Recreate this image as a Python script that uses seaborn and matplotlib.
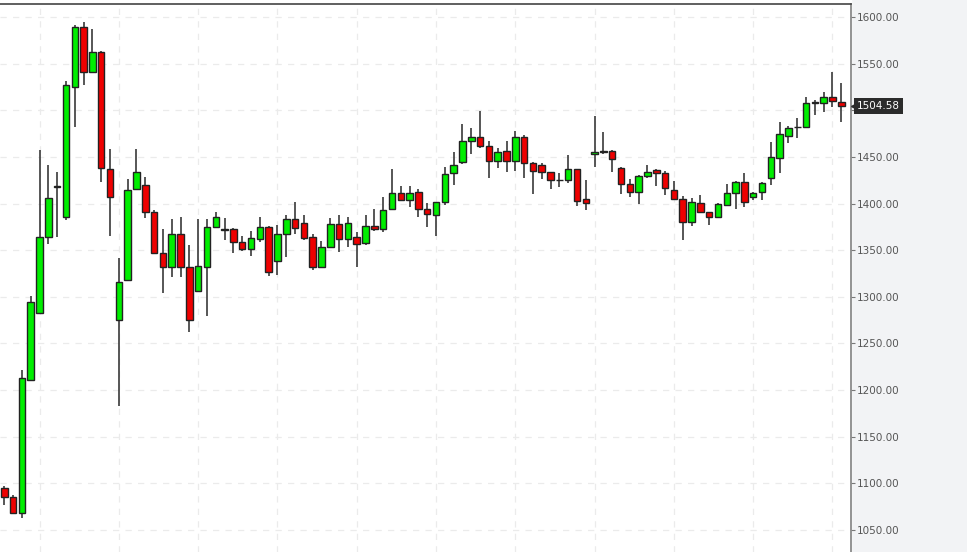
import numpy as np
import pandas as pd
import matplotlib
matplotlib.use("Agg")
import matplotlib.pyplot as plt
from matplotlib.patches import Rectangle
import seaborn as sns

# OHLC values (96 candles)
opens = [1094.7, 1085.7, 1067.9, 1210.8, 1282.3, 1364.5, 1418.0, 1385.9, 1525.3, 1589.0,
         1540.7, 1562.8, 1436.7, 1275.1, 1318.0, 1415.6, 1419.9, 1390.6, 1346.6, 1331.6,
         1367.0, 1331.6, 1306.5, 1331.6, 1374.5, 1372.0, 1372.7, 1358.8, 1351.6, 1362.3,
         1374.5, 1338.7, 1367.0, 1383.4, 1378.8, 1363.8, 1331.6, 1353.7, 1377.7, 1361.6,
         1363.8, 1358.0, 1376.2, 1373.0, 1394.1, 1411.0, 1403.8, 1412.0, 1394.1, 1387.4,
         1401.3, 1432.4, 1444.9, 1467.4, 1471.0, 1461.7, 1445.9, 1456.6, 1445.9, 1471.7,
         1443.1, 1441.3, 1433.5, 1425.0, 1425.2, 1436.7, 1404.9, 1453.1, 1455.6, 1456.6,
         1437.8, 1420.6, 1412.0, 1429.8, 1436.0, 1433.0, 1414.5, 1404.9, 1379.9, 1400.2,
         1390.6, 1385.9, 1398.4, 1411.0, 1423.4, 1407.3, 1412.7, 1427.0, 1448.5, 1472.7,
         1481.9, 1482.4, 1508.5, 1507.7, 1514.5, 1508.5]
highs = [1097.5, 1087.5, 1221.5, 1300.9, 1457.4, 1441.3, 1434.1, 1531.4, 1591.4, 1595.0,
         1586.8, 1563.5, 1458.1, 1341.3, 1426.3, 1458.1, 1428.8, 1393.0, 1372.4, 1383.1,
         1385.9, 1355.5, 1383.1, 1383.1, 1391.3, 1384.2, 1374.0, 1365.5, 1370.9, 1385.2,
         1376.0, 1377.0, 1387.4, 1401.3, 1387.7, 1367.3, 1360.2, 1384.2, 1387.7, 1385.9,
         1369.8, 1387.7, 1393.8, 1407.3, 1437.0, 1418.8, 1418.8, 1415.6, 1400.2, 1402.0,
         1439.5, 1455.6, 1485.3, 1480.7, 1499.5, 1467.4, 1459.2, 1467.4, 1478.1, 1473.0,
         1445.0, 1443.0, 1434.0, 1433.0, 1452.0, 1437.0, 1425.2, 1493.9, 1477.0, 1457.0,
         1439.0, 1426.0, 1431.0, 1441.3, 1436.5, 1435.0, 1424.5, 1408.1, 1405.6, 1409.1,
         1391.0, 1400.2, 1420.9, 1424.5, 1432.4, 1412.5, 1423.0, 1466.3, 1487.7, 1483.5,
         1491.4, 1513.9, 1511.0, 1519.3, 1540.7, 1528.9]
lows = [1076.8, 1066.8, 1062.5, 1210.0, 1282.0, 1356.3, 1364.5, 1382.4, 1482.4, 1527.1,
        1540.7, 1423.4, 1365.2, 1182.9, 1318.0, 1415.0, 1384.2, 1346.6, 1304.4, 1320.9,
        1320.9, 1261.9, 1306.5, 1279.4, 1374.5, 1360.9, 1346.6, 1349.4, 1344.0, 1358.8,
        1322.3, 1323.4, 1343.0, 1367.0, 1360.9, 1328.7, 1330.6, 1353.7, 1348.4, 1353.7,
        1332.3, 1355.5, 1370.5, 1369.8, 1393.0, 1403.8, 1396.6, 1385.9, 1375.2, 1365.2,
        1398.4, 1419.9, 1442.4, 1453.1, 1459.2, 1427.0, 1437.8, 1434.1, 1435.2, 1427.0,
        1410.2, 1426.0, 1415.3, 1417.6, 1421.7, 1397.4, 1393.0, 1439.5, 1453.1, 1434.1,
        1410.2, 1407.3, 1399.2, 1427.0, 1418.8, 1409.1, 1403.8, 1360.9, 1376.2, 1390.6,
        1377.0, 1385.0, 1397.7, 1393.8, 1396.6, 1403.8, 1403.8, 1419.9, 1432.4, 1464.6,
        1470.6, 1482.0, 1494.9, 1497.6, 1503.0, 1487.1]
closes = [1085.7, 1067.9, 1212.6, 1294.8, 1364.5, 1405.6, 1418.8, 1527.1, 1589.0, 1541.4,
          1562.8, 1437.8, 1407.3, 1316.2, 1414.5, 1433.5, 1391.3, 1346.6, 1331.6, 1367.0,
          1331.6, 1275.1, 1333.0, 1374.5, 1385.9, 1372.4, 1359.1, 1351.6, 1363.4, 1374.5,
          1326.9, 1367.0, 1383.4, 1374.1, 1363.4, 1331.6, 1353.7, 1377.7, 1361.6, 1378.8,
          1356.6, 1376.2, 1373.0, 1393.1, 1411.0, 1403.8, 1411.0, 1394.1, 1388.5, 1401.3,
          1431.7, 1441.3, 1467.4, 1471.0, 1461.7, 1445.9, 1455.6, 1445.9, 1471.7, 1443.1,
          1434.9, 1433.5, 1425.2, 1425.2, 1436.7, 1402.4, 1400.2, 1455.6, 1456.2, 1447.4,
          1420.6, 1412.0, 1429.5, 1434.1, 1432.4, 1417.0, 1404.9, 1379.9, 1401.3, 1390.6,
          1385.9, 1399.2, 1411.0, 1423.4, 1402.0, 1411.6, 1422.3, 1449.6, 1474.6, 1481.3,
          1481.5, 1508.1, 1508.1, 1514.5, 1509.9, 1504.58]
last_price = 1504.58
y_ticks = [1050, 1100, 1150, 1200, 1250, 1300, 1350, 1400, 1450, 1500, 1550, 1600]

df = pd.DataFrame({"open": opens, "high": highs, "low": lows, "close": closes})
df["idx"] = np.arange(len(df))
df["up"] = df["close"] >= df["open"]

sns.set_style("white")
plt.rcParams["font.family"] = ["DejaVu Sans"]

W, H = 967, 552
fig = plt.figure(figsize=(W / 100, H / 100), dpi=100, facecolor="#f2f3f5")
fig.patches.append(Rectangle((0, 0), 851 / W, 1, transform=fig.transFigure,
                             color="white", zorder=-5))
ax = fig.add_axes([0, 0, 851 / W, 1 - 4 / H])
ax.set_zorder(1)
ax.set_facecolor("white")

# wicks
ax.vlines(df["idx"], df["low"], df["high"], color="#3a3a3a", lw=1.2, zorder=2)

# bodies
body_bottom = np.minimum(df["open"], df["close"])
body_h = np.maximum(np.abs(df["close"] - df["open"]), 0.6)
colors = np.where(df["up"], "#00ee00", "#ee0000")
ax.bar(df["idx"], body_h, bottom=body_bottom, width=0.74, color=colors,
       edgecolor="#222222", linewidth=1.0, zorder=3)

ax.set_xlim(-0.49, 96.1)
ax.set_ylim(1026.4, 1613.9)

# grid
for v in y_ticks:
    ax.axhline(v, color="#ebebeb", lw=0.9, ls=(0, (5, 5)), zorder=0)
for i in range(4, 96, 9):
    ax.axvline(i, color="#ebebeb", lw=0.9, ls=(0, (5, 5)), zorder=0)

ax.yaxis.tick_right()
ax.set_yticks(y_ticks)
ax.set_yticklabels([f"{v:.2f}" for v in y_ticks])
ax.tick_params(axis="y", right=True, length=3, width=0.8, color="#777777",
               labelsize=7.5, labelcolor="#555555", pad=1)
ax.set_xticks([])
for s in ["left", "bottom"]:
    ax.spines[s].set_visible(False)
ax.spines["right"].set_color("#8a8a8a")
ax.spines["right"].set_linewidth(1.3)
ax.spines["top"].set_color("#444444")
ax.spines["top"].set_linewidth(1.2)

# last price marker (covers the 1500.00 label, as in the source)
ax.plot([1.004], [last_price], marker="<", ms=5, color="#2b2b2b",
        transform=ax.get_yaxis_transform(), clip_on=False, zorder=5)
ax.text(1.007, last_price, f"{last_price:.2f}", transform=ax.get_yaxis_transform(),
        va="center", ha="left", fontsize=7.5, color="white", zorder=6,
        bbox=dict(boxstyle="square,pad=0.25", fc="#2b2b2b", ec="none"))

fig.savefig("out.png", dpi=100, facecolor=fig.get_facecolor())
